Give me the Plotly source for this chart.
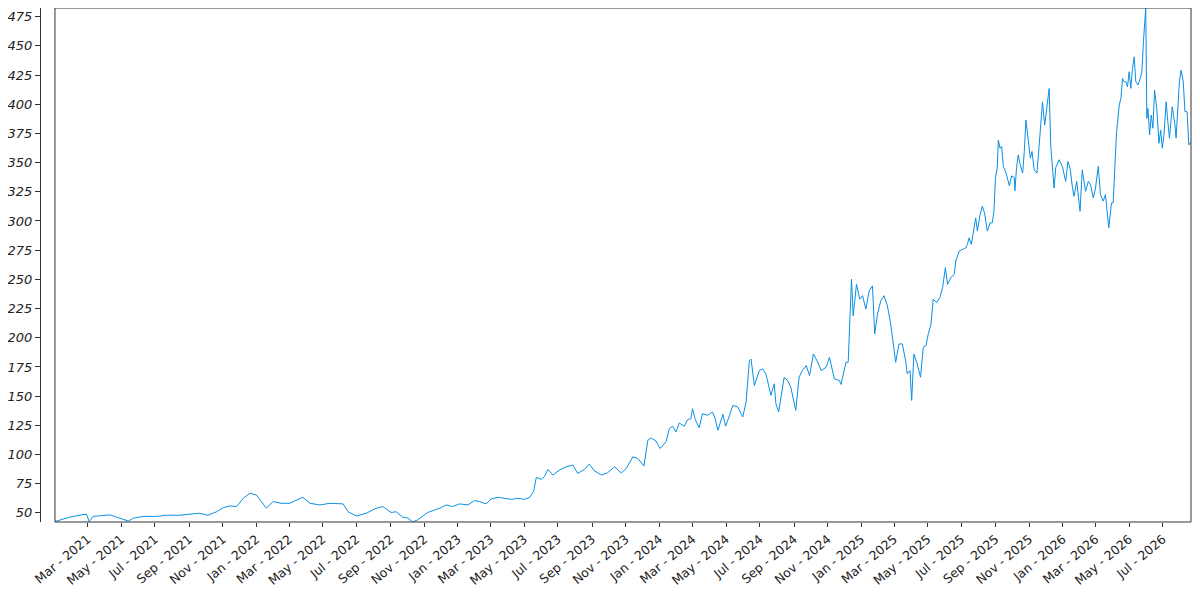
import pandas as pd
import plotly.graph_objects as go

# Daily close
dates = [
    "2021-01-01", "2021-01-10", "2021-01-22", "2021-02-03", "2021-02-18", "2021-02-27",
    "2021-03-04", "2021-03-11", "2021-03-23", "2021-04-11", "2021-04-23", "2021-05-05",
    "2021-05-14", "2021-05-23", "2021-06-10", "2021-07-04", "2021-07-22", "2021-08-15",
    "2021-09-02", "2021-09-20", "2021-10-05", "2021-10-21", "2021-11-02", "2021-11-14",
    "2021-11-26", "2021-12-08", "2021-12-20", "2022-01-01", "2022-01-10", "2022-01-19",
    "2022-01-31", "2022-02-15", "2022-03-02", "2022-03-14", "2022-03-26", "2022-04-08",
    "2022-04-26", "2022-05-14", "2022-05-26", "2022-06-07", "2022-06-16", "2022-07-01",
    "2022-07-19", "2022-08-06", "2022-08-18", "2022-09-02", "2022-09-11", "2022-09-23",
    "2022-10-02", "2022-10-11", "2022-10-20", "2022-10-29", "2022-11-07", "2022-11-20",
    "2022-11-29", "2022-12-11", "2022-12-22", "2023-01-04", "2023-01-19", "2023-01-31",
    "2023-02-09", "2023-02-21", "2023-03-02", "2023-03-14", "2023-03-27", "2023-04-08",
    "2023-04-19", "2023-05-02", "2023-05-11", "2023-05-18", "2023-05-23", "2023-06-01",
    "2023-06-07", "2023-06-13", "2023-06-22", "2023-07-04", "2023-07-16", "2023-07-28",
    "2023-08-06", "2023-08-18", "2023-08-27", "2023-09-05", "2023-09-18", "2023-09-29",
    "2023-10-12", "2023-10-24", "2023-11-02", "2023-11-14", "2023-11-23", "2023-12-04",
    "2023-12-11", "2023-12-17", "2023-12-26", "2024-01-02", "2024-01-13", "2024-01-19",
    "2024-01-25", "2024-01-31", "2024-02-06", "2024-02-15", "2024-02-21", "2024-02-27",
    "2024-03-01", "2024-03-06", "2024-03-13", "2024-03-19", "2024-03-28", "2024-04-06",
    "2024-04-10", "2024-04-16", "2024-04-25", "2024-04-30", "2024-05-07", "2024-05-13",
    "2024-05-22", "2024-05-31", "2024-06-06", "2024-06-12", "2024-06-15", "2024-06-21",
    "2024-06-30", "2024-07-06", "2024-07-12", "2024-07-18", "2024-07-21", "2024-07-27",
    "2024-07-30", "2024-08-04", "2024-08-08", "2024-08-14", "2024-08-20", "2024-08-26",
    "2024-09-04", "2024-09-10", "2024-09-16", "2024-09-23", "2024-09-29", "2024-10-06",
    "2024-10-14", "2024-10-20", "2024-10-29", "2024-11-04", "2024-11-13", "2024-11-22",
    "2024-11-25", "2024-12-04", "2024-12-08", "2024-12-14", "2024-12-17", "2024-12-23",
    "2024-12-29", "2025-01-03", "2025-01-09", "2025-01-15", "2025-01-21", "2025-01-25",
    "2025-01-30", "2025-02-05", "2025-02-11", "2025-02-17", "2025-02-23", "2025-03-01",
    "2025-03-04", "2025-03-10", "2025-03-16", "2025-03-22", "2025-03-25", "2025-03-30",
    "2025-04-02", "2025-04-06", "2025-04-12", "2025-04-18", "2025-04-23", "2025-04-28",
    "2025-05-02", "2025-05-07", "2025-05-11", "2025-05-17", "2025-05-23", "2025-05-28",
    "2025-06-02", "2025-06-06", "2025-06-12", "2025-06-18", "2025-06-21", "2025-06-27",
    "2025-07-03", "2025-07-09", "2025-07-12", "2025-07-15", "2025-07-19", "2025-07-23",
    "2025-07-27", "2025-07-30", "2025-08-04", "2025-08-08", "2025-08-12", "2025-08-17",
    "2025-08-22", "2025-08-26", "2025-08-29", "2025-09-01", "2025-09-04", "2025-09-06",
    "2025-09-09", "2025-09-12", "2025-09-15", "2025-09-20", "2025-09-26", "2025-09-30",
    "2025-10-05", "2025-10-06", "2025-10-09", "2025-10-12", "2025-10-15", "2025-10-20",
    "2025-10-23", "2025-10-26", "2025-10-30", "2025-11-03", "2025-11-06", "2025-11-10",
    "2025-11-15", "2025-11-17", "2025-11-21", "2025-11-25", "2025-11-29", "2025-12-03",
    "2025-12-07", "2025-12-10", "2025-12-13", "2025-12-16", "2025-12-19", "2025-12-25",
    "2025-12-31", "2026-01-06", "2026-01-10", "2026-01-14", "2026-01-18", "2026-01-21",
    "2026-01-26", "2026-02-01", "2026-02-05", "2026-02-11", "2026-02-16", "2026-02-20",
    "2026-02-25", "2026-03-01", "2026-03-06", "2026-03-10", "2026-03-15", "2026-03-19",
    "2026-03-25", "2026-03-30", "2026-04-02", "2026-04-05", "2026-04-08", "2026-04-13",
    "2026-04-16", "2026-04-19", "2026-04-22", "2026-04-25", "2026-04-28", "2026-05-01",
    "2026-05-04", "2026-05-07", "2026-05-10", "2026-05-13", "2026-05-17", "2026-05-21",
    "2026-05-24", "2026-05-27", "2026-05-29", "2026-05-31", "2026-06-02", "2026-06-04",
    "2026-06-07", "2026-06-10", "2026-06-13", "2026-06-16", "2026-06-20", "2026-06-24",
    "2026-06-27", "2026-06-30", "2026-07-03", "2026-07-07", "2026-07-10", "2026-07-13",
    "2026-07-18", "2026-07-23", "2026-07-25", "2026-07-28", "2026-07-31", "2026-08-03",
    "2026-08-07", "2026-08-10", "2026-08-14", "2026-08-17", "2026-08-21",
]

prices = [
    42.6, 44.0, 45.5, 47.0, 48.3, 49.0,
    42.6, 47.0, 47.5, 48.3, 46.3, 44.6,
    43.0, 45.5, 47.0, 47.0, 48.0, 48.0,
    49.0, 49.7, 48.0, 51.0, 54.5, 56.0,
    55.4, 62.5, 66.8, 65.3, 59.7, 54.0,
    59.7, 58.2, 58.2, 61.0, 63.4, 58.2,
    56.8, 58.2, 57.7, 57.7, 51.0, 47.4,
    49.7, 54.0, 55.4, 50.3, 51.0, 46.3,
    45.6, 42.3, 44.0, 46.9, 50.3, 52.5,
    54.0, 56.8, 55.4, 57.7, 56.8, 60.5,
    59.7, 57.7, 61.9, 63.4, 62.5, 61.6,
    62.5, 61.6, 63.4, 68.2, 80.4, 78.7,
    81.3, 87.2, 82.4, 86.7, 89.5, 90.9,
    83.8, 87.2, 91.8, 86.1, 82.4, 84.4,
    89.5, 84.1, 88.1, 98.0, 96.6, 90.1,
    112.2, 114.2, 111.4, 105.2, 110.8, 122.2,
    124.2, 119.3, 127.0, 124.2, 129.9, 130.7,
    139.2, 129.9, 123.0, 135.0, 133.6, 136.4,
    132.2, 120.8, 134.4, 124.2, 133.6, 142.1,
    140.7, 132.2, 144.9, 180.4, 181.8, 159.1,
    171.9, 173.3, 169.0, 156.3, 150.6, 160.6,
    143.5, 136.4, 147.8, 166.2, 163.4, 157.7,
    137.8, 166.2, 171.9, 176.2, 167.6, 186.1,
    179.0, 171.9, 174.7, 183.2, 164.8, 163.4,
    160.0, 179.0, 179.0, 250.1, 218.8, 245.8,
    233.0, 236.0, 224.5, 240.1, 244.4, 203.2,
    220.3, 231.6, 236.0, 227.3, 211.7, 189.0,
    179.0, 194.7, 194.7, 180.4, 169.1, 171.9,
    146.3, 186.1, 177.6, 166.2, 191.8, 193.3,
    203.2, 211.7, 233.0, 230.2, 234.4, 243.0,
    260.0, 245.8, 251.5, 254.3, 265.7, 274.2,
    275.6, 277.0, 279.9, 285.6, 279.9, 292.7,
    302.6, 291.3, 305.5, 312.6, 306.9, 291.3,
    298.4, 298.4, 308.4, 338.1, 345.2, 369.4,
    362.3, 363.7, 346.7, 341.0, 330.1, 338.6,
    337.2, 325.9, 345.8, 356.6, 349.5, 341.0,
    359.5, 386.4, 370.8, 353.8, 359.5, 343.8,
    341.0, 353.8, 376.5, 402.0, 382.1, 400.5,
    413.4, 363.7, 341.0, 328.2, 345.8, 352.4,
    346.7, 333.9, 350.9, 345.2, 329.6, 321.1,
    333.9, 308.3, 343.8, 325.4, 333.9, 331.0,
    319.7, 328.2, 346.7, 322.6, 317.0, 322.6,
    294.1, 315.5, 315.5, 353.8, 375.1, 399.3,
    405.0, 422.1, 419.3, 419.3, 415.0, 427.8,
    413.6, 430.5, 440.5, 419.3, 416.5, 422.1,
    427.8, 454.7, 470.3, 482.2, 387.9, 396.4,
    373.7, 390.7, 379.4, 412.0, 396.4, 366.5,
    377.9, 362.3, 373.7, 402.1, 385.1, 370.9,
    397.8, 382.3, 370.9, 390.7, 419.3, 429.1,
    419.3, 393.6, 393.6, 365.1, 367.9,
]

# x ticks every second month, Mar 2021 .. Jul 2026
tick_dates = pd.date_range("2021-03-01", "2026-07-01", freq="2MS")

fig = go.Figure()

fig.add_trace(go.Scatter(
    x=dates,
    y=prices,
    mode='lines',
    line=dict(color='#0a8fe3', width=1),
    showlegend=False,
    hovertemplate='%{x|%d %b %Y}: %{y:.1f}<extra></extra>'
))

# frame around the plotting area (y axis line sits a bit left of it)
fig.add_shape(type='rect', xref='x domain', yref='y domain',
              x0=0, x1=1, y0=0, y1=1,
              line=dict(color='#333333', width=1))

# page body has an 8px margin, so the figure is 16px smaller than the window
fig.update_layout(
    width=1184,
    height=584,
    margin=dict(l=32, r=1, t=0, b=70),
    plot_bgcolor='white',
    paper_bgcolor='white',
    font=dict(family='DejaVu Sans', color='#222222'),
    xaxis=dict(
        domain=[0.013, 1],
        range=['2021-01-01', '2026-08-21'],
        type='date',
        tickvals=tick_dates,
        tickformat='%b - %Y',
        tickangle=-40,
        ticks='outside',
        ticklen=4,
        tickcolor='#333333',
        tickfont=dict(size=12.5),
        showgrid=False,
        zeroline=False,
        showline=False,
        automargin=False,
    ),
    yaxis=dict(
        anchor='free',
        position=0,
        range=[42.2, 482.4],
        tick0=50,
        dtick=25,
        ticks='outside',
        ticklen=5,
        tickcolor='#333333',
        tickfont=dict(size=13, style='italic'),
        showline=True,
        linecolor='#333333',
        linewidth=1,
        showgrid=False,
        zeroline=False,
        automargin=False,
    ),
)

fig.write_html("out.html")
